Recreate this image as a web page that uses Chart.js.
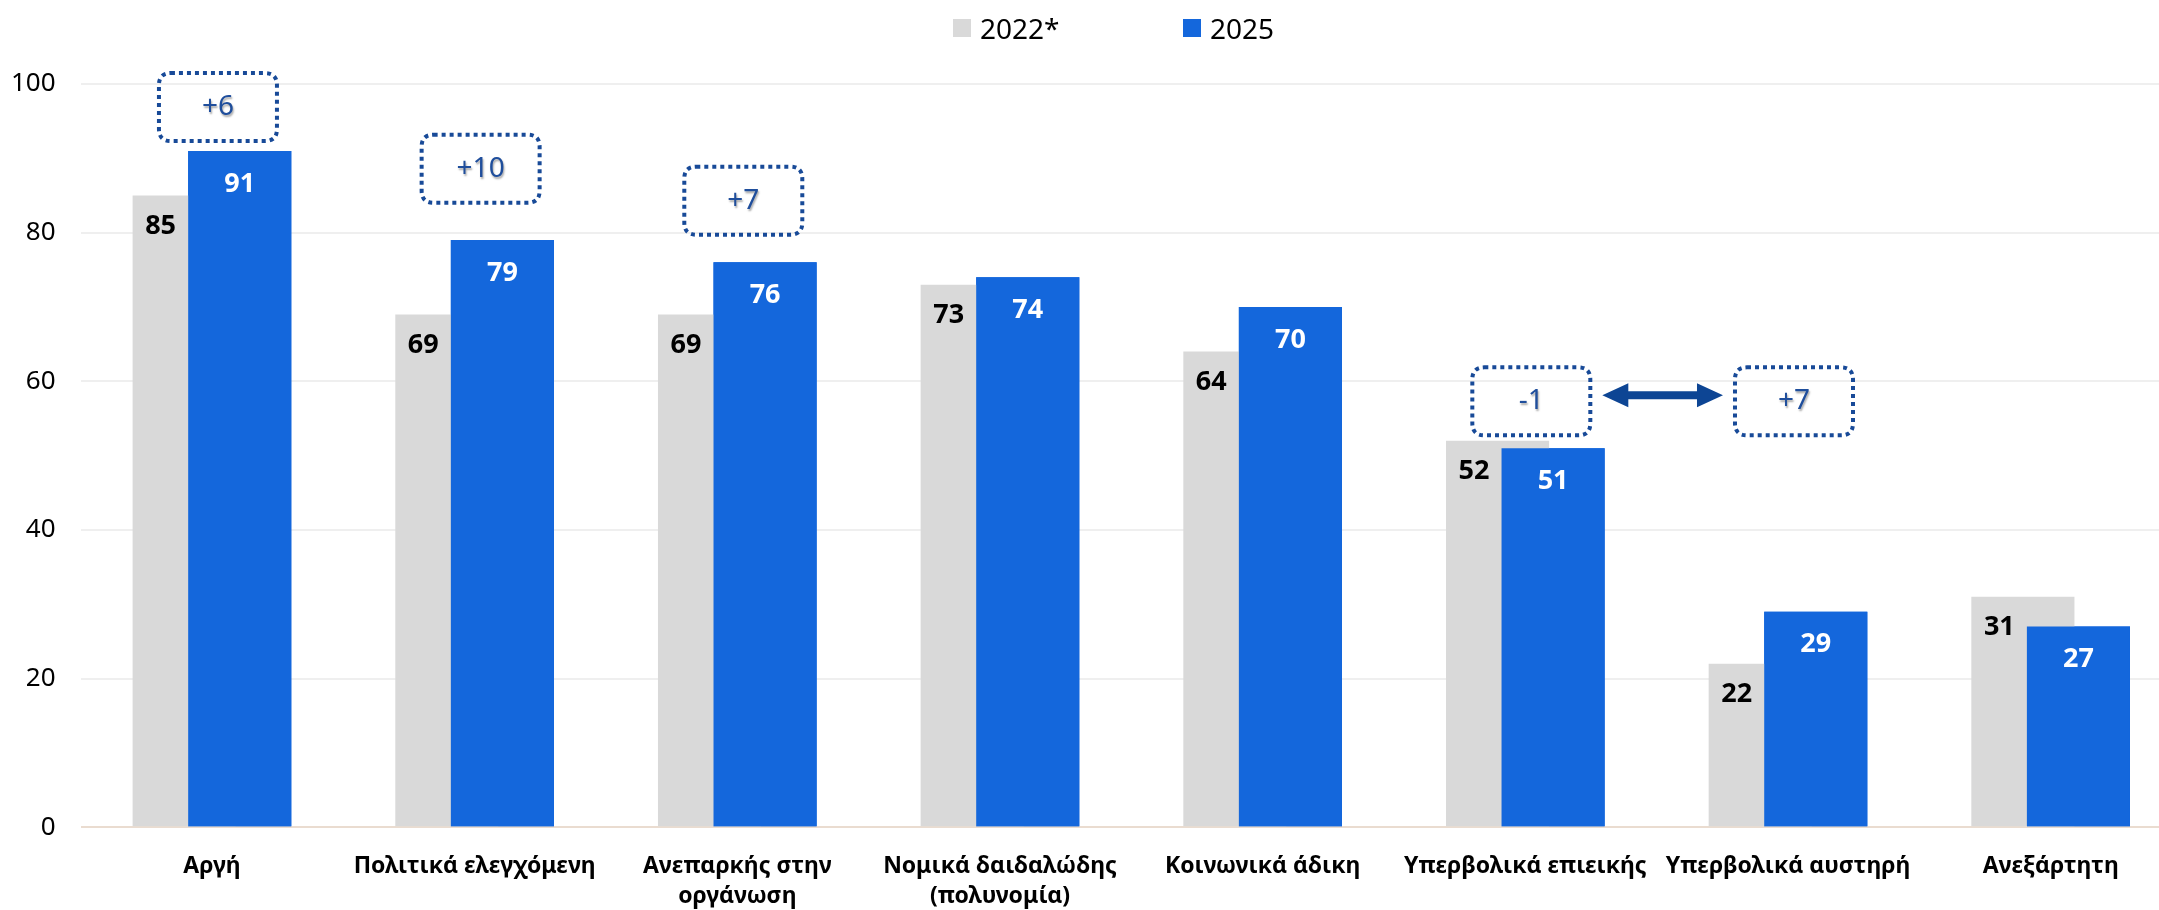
<!DOCTYPE html>
<html>
<head>
<meta charset="utf-8">
<script src="https://cdn.jsdelivr.net/npm/chart.js"></script>
<style>
  html, body { margin: 0; padding: 0; background: #fff; overflow: hidden; }
  #wrap { position: absolute; left: 0; top: 0; width: 2182px; height: 935px; }
  .legend-item { position: absolute; top: 8px; height: 40px; display: flex; align-items: center;
    font-family: "Noto Sans", sans-serif; font-size: 28px; color: #000; white-space: nowrap; }
  .legend-box { width: 18px; height: 18px; margin-right: 9px; }
</style>
</head>
<body>
<div id="wrap">
  <canvas id="chart" width="2182" height="935"></canvas>
</div>
<div class="legend-item" style="left:953px"><span class="legend-box" style="background:#d9d9d9"></span>2022*</div>
<div class="legend-item" style="left:1183px"><span class="legend-box" style="background:#1467dc"></span>2025</div>

<script>
// Categories and values
const categories = [
  'Αργή',
  'Πολιτικά ελεγχόμενη',
  ['Ανεπαρκής στην', 'οργάνωση'],
  ['Νομικά δαιδαλώδης', '(πολυνομία)'],
  'Κοινωνικά άδικη',
  'Υπερβολικά επιεικής',
  'Υπερβολικά αυστηρή',
  'Ανεξάρτητη'
];
const values2022 = [85, 69, 69, 73, 64, 52, 22, 31];
const values2025 = [91, 79, 76, 74, 70, 51, 29, 27];
const yTicks = [0, 20, 40, 60, 80, 100];

// Change call-outs (dotted boxes)
const changeLabels = ['+6', '+10', '+7', '-1', '+7'];
const changeCategories = [0, 1, 2, 5, 6];
const changeLevels = [96.9, 88.6, 84.3, 57.3, 57.3];

const GREY = '#d9d9d9';
const BLUE = '#1467dc';
const CALLOUT = '#184a98';
const FONT = '"Noto Sans", sans-serif';

// Blue bars overlap the grey ones, so redraw them on top
const bringBlueToFront = {
  id: 'bringBlueToFront',
  afterDatasetsDraw(chart) {
    chart.getDatasetMeta(1).controller.draw();
  }
};

// Value labels inside the bars
const valueLabels = {
  id: 'valueLabels',
  afterDatasetsDraw(chart) {
    const ctx = chart.ctx;
    ctx.save();
    ctx.font = 'bold 27px ' + FONT;
    ctx.textAlign = 'center';
    ctx.textBaseline = 'middle';
    chart.getDatasetMeta(0).data.forEach((bar, i) => {
      ctx.fillStyle = '#000';
      ctx.fillText(values2022[i], bar.x - bar.width / 2 + 28, bar.y + 31);
    });
    chart.getDatasetMeta(1).data.forEach((bar, i) => {
      ctx.fillStyle = '#fff';
      ctx.fillText(values2025[i], bar.x, bar.y + 33);
    });
    ctx.restore();
  }
};

function roundRect(ctx, x, y, w, h, r) {
  ctx.beginPath();
  ctx.moveTo(x + r, y);
  ctx.lineTo(x + w - r, y);
  ctx.quadraticCurveTo(x + w, y, x + w, y + r);
  ctx.lineTo(x + w, y + h - r);
  ctx.quadraticCurveTo(x + w, y + h, x + w - r, y + h);
  ctx.lineTo(x + r, y + h);
  ctx.quadraticCurveTo(x, y + h, x, y + h - r);
  ctx.lineTo(x, y + r);
  ctx.quadraticCurveTo(x, y, x + r, y);
  ctx.closePath();
}

// Dotted change boxes and the double arrow
const callouts = {
  id: 'callouts',
  afterDraw(chart) {
    const ctx = chart.ctx;
    const xs = chart.scales.x;
    const ys = chart.scales.y;
    const boxW = 118, boxH = 68;
    const boxes = [];
    changeLabels.forEach((label, i) => {
      const cx = xs.getPixelForValue(changeCategories[i]) + 6;
      const cy = ys.getPixelForValue(changeLevels[i]);
      boxes.push({ cx, cy });
      ctx.save();
      ctx.strokeStyle = CALLOUT;
      ctx.lineWidth = 4;
      ctx.setLineDash([4, 4]);
      roundRect(ctx, cx - boxW / 2, cy - boxH / 2, boxW, boxH, 12);
      ctx.stroke();
      ctx.setLineDash([]);
      ctx.font = '28px ' + FONT;
      ctx.textAlign = 'center';
      ctx.textBaseline = 'middle';
      ctx.shadowColor = 'rgba(0,0,0,0.35)';
      ctx.shadowOffsetX = 1;
      ctx.shadowOffsetY = 2;
      ctx.shadowBlur = 2;
      ctx.fillStyle = '#1f4e9c';
      ctx.fillText(label, cx, cy);
      ctx.restore();
    });

    // arrow between the last two boxes
    const a = boxes[3], b = boxes[4];
    const x1 = a.cx + boxW / 2 + 12, x2 = b.cx - boxW / 2 - 12;
    const y = (a.cy + b.cy) / 2 - 6;
    const head = 26, half = 12, shaft = 4;
    ctx.save();
    ctx.fillStyle = '#0d4594';
    ctx.beginPath();
    ctx.moveTo(x1, y);
    ctx.lineTo(x1 + head, y - half);
    ctx.lineTo(x1 + head, y - shaft);
    ctx.lineTo(x2 - head, y - shaft);
    ctx.lineTo(x2 - head, y - half);
    ctx.lineTo(x2, y);
    ctx.lineTo(x2 - head, y + half);
    ctx.lineTo(x2 - head, y + shaft);
    ctx.lineTo(x1 + head, y + shaft);
    ctx.lineTo(x1 + head, y + half);
    ctx.closePath();
    ctx.fill();
    ctx.restore();
  }
};

new Chart(document.getElementById('chart'), {
  type: 'bar',
  data: {
    labels: categories,
    datasets: [
      { label: '2022*', data: values2022, backgroundColor: GREY, order: 0 },
      { label: '2025', data: values2025, backgroundColor: BLUE, order: 1 }
    ]
  },
  options: {
    responsive: false,
    animation: false,
    categoryPercentage: 0.423,
    barPercentage: 1.856,
    layout: { padding: { top: 84, left: -14, right: 0, bottom: 0 } },
    plugins: {
      legend: { display: false },
      tooltip: { enabled: false }
    },
    scales: {
      x: {
        grid: { display: false, drawTicks: false },
        border: { display: false },
        ticks: {
          padding: 24,
          color: '#000',
          font: { family: FONT, size: 23, weight: 'bold', lineHeight: 1.3 }
        }
      },
      y: {
        min: 0,
        max: 100,
        afterBuildTicks: (axis) => { axis.ticks = yTicks.map(v => ({ value: v })); },
        border: { display: false },
        grid: {
          drawTicks: false,
          lineWidth: 2,
          color: (c) => c.tick && c.tick.value === 0 ? '#eadcd0' : '#efefef'
        },
        ticks: {
          padding: 25,
          color: '#000',
          font: { family: FONT, size: 26 }
        }
      }
    }
  },
  plugins: [bringBlueToFront, valueLabels, callouts]
});
</script>
</body>
</html>
